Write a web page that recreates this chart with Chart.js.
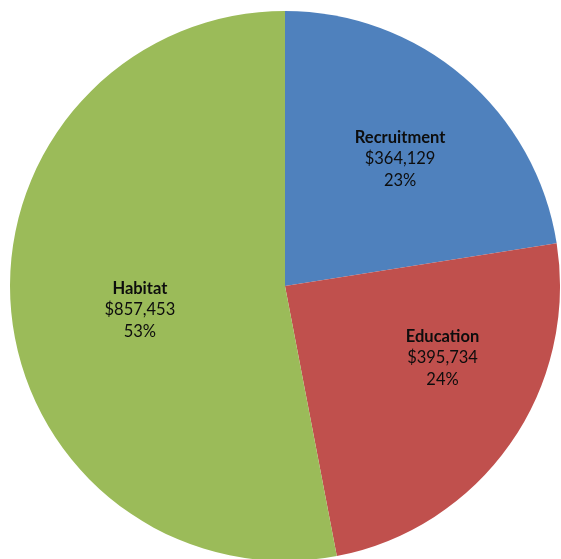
<!DOCTYPE html>
<html lang="en">
  <head>
    <meta charset="UTF-8" />
    <title>Program Spending</title>
    <script src="https://cdn.jsdelivr.net/npm/chart.js"></script>
    <style>
      html, body { margin: 0; padding: 0; background: #fff; overflow: hidden; }
      canvas { display: block; }
    </style>
  </head>
  <body>
    <canvas id="pieChart" width="561" height="561"></canvas>

    <script>
      let labels = ['Recruitment', 'Education', 'Habitat'];
      let amounts = [364129, 395734, 857453];
      let percentLabels = ['23%', '24%', '53%'];

      let colors = ['#4F81BD', '#C0504D', '#9BBB59'];

      // nudges (degrees, radius fraction) so labels sit roughly where Excel put them
      let labelAngleShift = [1.5, -10.5, -4];
      let labelRadius = [0.625, 0.63, 0.535];

      function money(v) {
        return '$' + v.toLocaleString('en-US');
      }

      // draws name / amount / percent inside each slice
      var sliceLabels = {
        id: 'sliceLabels',
        afterDatasetsDraw(chart) {
          var ctx = chart.ctx;
          var meta = chart.getDatasetMeta(0);
          ctx.save();
          ctx.fillStyle = '#0d0d0d';
          ctx.textAlign = 'center';
          ctx.textBaseline = 'middle';
          meta.data.forEach(function (arc, i) {
            var mid = (arc.startAngle + arc.endAngle) / 2 + labelAngleShift[i] * Math.PI / 180;
            var r = arc.outerRadius * labelRadius[i];
            var x = arc.x + Math.cos(mid) * r;
            var y = arc.y + Math.sin(mid) * r;
            ctx.font = 'bold 16.5px Lato';
            ctx.fillText(labels[i], x, y - 21);
            ctx.font = '16.5px Lato';
            ctx.fillText(money(amounts[i]), x, y);
            ctx.fillText(percentLabels[i], x, y + 22);
          });
          ctx.restore();
        },
      };

      var pieChart = new Chart(document.getElementById('pieChart'), {
        type: 'pie',
        data: {
          labels,
          datasets: [
            {
              data: amounts,
              backgroundColor: colors,
              borderWidth: 0,
            },
          ],
        },
        options: {
          responsive: false,
          animation: false,
          layout: { padding: { left: 10, right: 1, top: 11, bottom: 0 } },
          plugins: {
            legend: { display: false },
            tooltip: { enabled: false },
          },
        },
        plugins: [sliceLabels],
      });
    </script>
  </body>
</html>
